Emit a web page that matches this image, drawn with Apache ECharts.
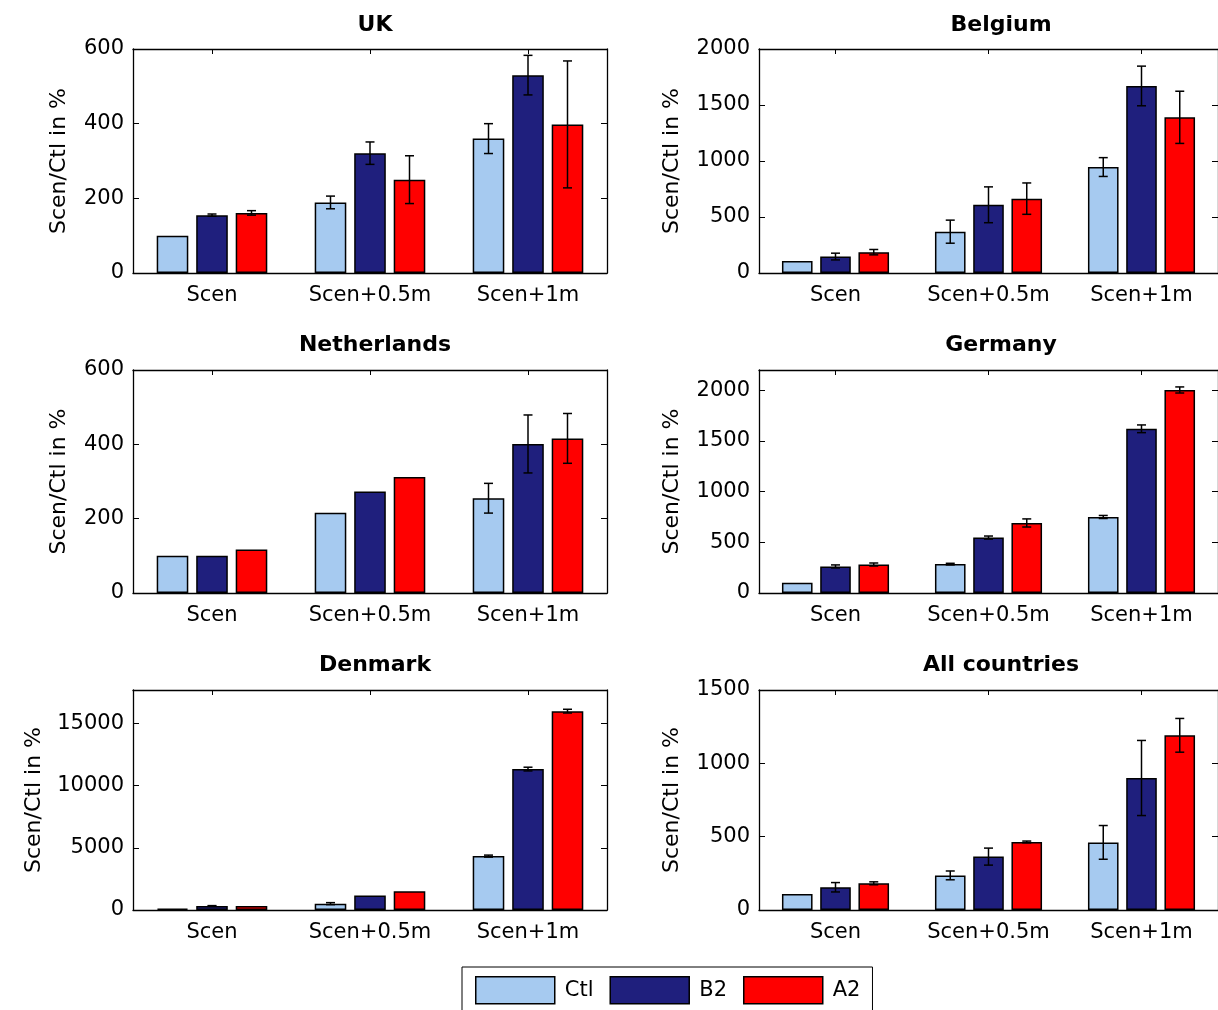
<!DOCTYPE html>
<html>
<head>
<meta charset="utf-8">
<script src="https://cdn.jsdelivr.net/npm/echarts@6/dist/echarts.min.js"></script>
<style>
html,body{margin:0;padding:0;background:#fff;}
#chart{width:1218px;height:1010px;}
</style>
</head>
<body>
<div id="chart"></div>
<script>
// ---- data ----
const categories = ['Scen', 'Scen+0.5m', 'Scen+1m'];
const seriesNames = ['Ctl', 'B2', 'A2'];
const panelTitles = ['UK', 'Belgium', 'Netherlands', 'Germany', 'Denmark', 'All countries'];
const yLabel = 'Scen/Ctl in %';

const ukCtl = [100, 189, 360],   ukCtlErr = [0, 17, 40];
const ukB2  = [155, 321, 530],   ukB2Err  = [3, 30, 53];
const ukA2  = [161, 250, 398],   ukA2Err  = [6, 64, 170];

const beCtl = [108, 369, 946],   beCtlErr = [0, 103, 84];
const beB2  = [147, 609, 1670],  beB2Err  = [30, 160, 177];
const beA2  = [186, 664, 1390],  beA2Err  = [24, 140, 233];

const nlCtl = [100, 216, 255],   nlCtlErr = [0, 0, 40];
const nlB2  = [100, 273, 401],   nlB2Err  = [0, 0, 78];
const nlA2  = [117, 312, 416],   nlA2Err  = [0, 0, 67];

const deCtl = [101, 285, 750],   deCtlErr = [0, 8, 15];
const deB2  = [262, 547, 1620],  deB2Err  = [15, 15, 38];
const deA2  = [281, 691, 2003],  deA2Err  = [15, 40, 30];

const dkCtl = [120, 512, 4336],  dkCtlErr = [0, 80, 80];
const dkB2  = [323, 1158, 11338], dkB2Err = [30, 0, 150];
const dkA2  = [323, 1508, 16000], dkA2Err = [0, 0, 150];

const allCtl = [109, 236, 461],  allCtlErr = [0, 30, 115];
const allB2  = [155, 364, 900],  allB2Err  = [32, 58, 256];
const allA2  = [182, 464, 1191], allA2Err  = [10, 6, 115];

const yMax      = [600, 2000, 600, 2200, 17700, 1500];
const yInterval = [200, 500, 200, 500, 5000, 500];

const panelValues = [
  [ukCtl, ukB2, ukA2], [beCtl, beB2, beA2], [nlCtl, nlB2, nlA2],
  [deCtl, deB2, deA2], [dkCtl, dkB2, dkA2], [allCtl, allB2, allA2]
];
const panelErrors = [
  [ukCtlErr, ukB2Err, ukA2Err], [beCtlErr, beB2Err, beA2Err], [nlCtlErr, nlB2Err, nlA2Err],
  [deCtlErr, deB2Err, deA2Err], [dkCtlErr, dkB2Err, dkA2Err], [allCtlErr, allB2Err, allA2Err]
];

// ---- layout / style ----
const colors = ['#A6CAF0', '#1F1F7D', '#FF0000'];
const FONT = 'DejaVu Sans';
const gridLefts = [133, 759];
const gridTops = [49, 370, 690];
const gridHeights = [224, 223, 220];
const gridWidth = 474;
const titleTops = [9, 329, 649];
const nameGaps = [63, 76, 63, 76, 88, 76];

const grids = [], xAxes = [], yAxes = [], series = [], titles = [];
const axisLine = { show: true, onZero: false, lineStyle: { color: '#000', width: 1.3 } };

function renderErr(params, api) {
  const cat = api.value(0), lo = api.value(1), hi = api.value(2), k = api.value(3);
  const band = api.size([1, 0])[0];
  const dx = (k - 1) * band * 0.25;
  const pLo = api.coord([cat, lo]), pHi = api.coord([cat, hi]);
  const x = pLo[0] + dx;
  const cap = 4.5;
  const st = { stroke: '#000', lineWidth: 1.5 };
  return {
    type: 'group',
    children: [
      { type: 'line', shape: { x1: x, y1: pLo[1], x2: x, y2: pHi[1] }, style: st },
      { type: 'line', shape: { x1: x - cap, y1: pLo[1], x2: x + cap, y2: pLo[1] }, style: st },
      { type: 'line', shape: { x1: x - cap, y1: pHi[1], x2: x + cap, y2: pHi[1] }, style: st }
    ]
  };
}

for (let p = 0; p < 6; p++) {
  const col = p % 2, row = Math.floor(p / 2);
  const left = gridLefts[col], top = gridTops[row], h = gridHeights[row];
  grids.push({ left: left, top: top, width: gridWidth, height: h, containLabel: false });
  titles.push({
    text: panelTitles[p], left: left + gridWidth / 2, top: titleTops[row], textAlign: 'center',
    textStyle: { fontFamily: FONT, fontSize: 22, fontWeight: 'bold', color: '#000' }
  });
  xAxes.push({
    type: 'category', gridIndex: p, position: 'bottom', data: categories,
    axisLine: axisLine,
    axisTick: { show: true, inside: true, alignWithLabel: true, length: 5, lineStyle: { color: '#000' } },
    axisLabel: { fontFamily: FONT, fontSize: 21, color: '#000', margin: 12, interval: 0, hideOverlap: false },
    splitLine: { show: false }
  });
  xAxes.push({
    type: 'category', gridIndex: p, position: 'top', data: categories,
    axisLine: axisLine,
    axisTick: { show: true, inside: true, alignWithLabel: true, length: 5, lineStyle: { color: '#000' } },
    axisLabel: { show: false }, splitLine: { show: false }
  });
  const hideMax = (yMax[p] % yInterval[p]) !== 0;
  yAxes.push({
    type: 'value', gridIndex: p, position: 'left', min: 0, max: yMax[p], interval: yInterval[p],
    name: yLabel, nameLocation: 'middle', nameRotate: 90, nameGap: nameGaps[p],
    nameTextStyle: { fontFamily: FONT, fontSize: 22, color: '#000' },
    axisLine: axisLine,
    axisTick: { show: true, inside: true, length: 6, lineStyle: { color: '#000' } },
    axisLabel: { fontFamily: FONT, fontSize: 21, color: '#000', margin: 9, showMaxLabel: !hideMax,
                 formatter: function (v) { return String(v); } },
    splitLine: { show: false }
  });
  yAxes.push({
    type: 'value', gridIndex: p, position: 'right', min: 0, max: yMax[p], interval: yInterval[p],
    axisLine: axisLine,
    axisTick: { show: true, inside: true, length: 6, lineStyle: { color: '#000' } },
    axisLabel: { show: false }, splitLine: { show: false }
  });
  const errData = [];
  for (let s = 0; s < 3; s++) {
    series.push({
      name: seriesNames[s], type: 'bar', xAxisIndex: 2 * p, yAxisIndex: 2 * p,
      data: panelValues[p][s], barWidth: '20%', barGap: '25%',
      itemStyle: { color: colors[s], borderColor: '#000', borderWidth: 1.5 },
      emphasis: { disabled: true }, z: 2
    });
    for (let c = 0; c < 3; c++) {
      const e = panelErrors[p][s][c];
      if (e > 0) {
        const v = panelValues[p][s][c];
        errData.push([c, v - e, v + e, s]);
      }
    }
  }
  series.push({
    type: 'custom', xAxisIndex: 2 * p, yAxisIndex: 2 * p, renderItem: renderErr,
    data: errData, encode: { x: 0, y: [1, 2] }, z: 4, silent: true
  });
}

const chart = echarts.init(document.getElementById('chart'), null, { renderer: 'canvas' });
chart.setOption({
  animation: false,
  backgroundColor: '#fff',
  color: colors,
  title: titles,
  grid: grids,
  xAxis: xAxes,
  yAxis: yAxes,
  legend: {
    data: seriesNames, left: 462, top: 967, orient: 'horizontal',
    icon: 'rect', itemWidth: 79, itemHeight: 27, itemGap: 16,
    padding: [9, 12, 10, 13],
    borderColor: '#000', borderWidth: 1,
    itemStyle: { borderColor: '#000', borderWidth: 1.5 },
    textStyle: { fontFamily: FONT, fontSize: 21, color: '#000', padding: [0, 0, 0, 5] },
    selectedMode: false
  },
  series: series
});
</script>
</body>
</html>
